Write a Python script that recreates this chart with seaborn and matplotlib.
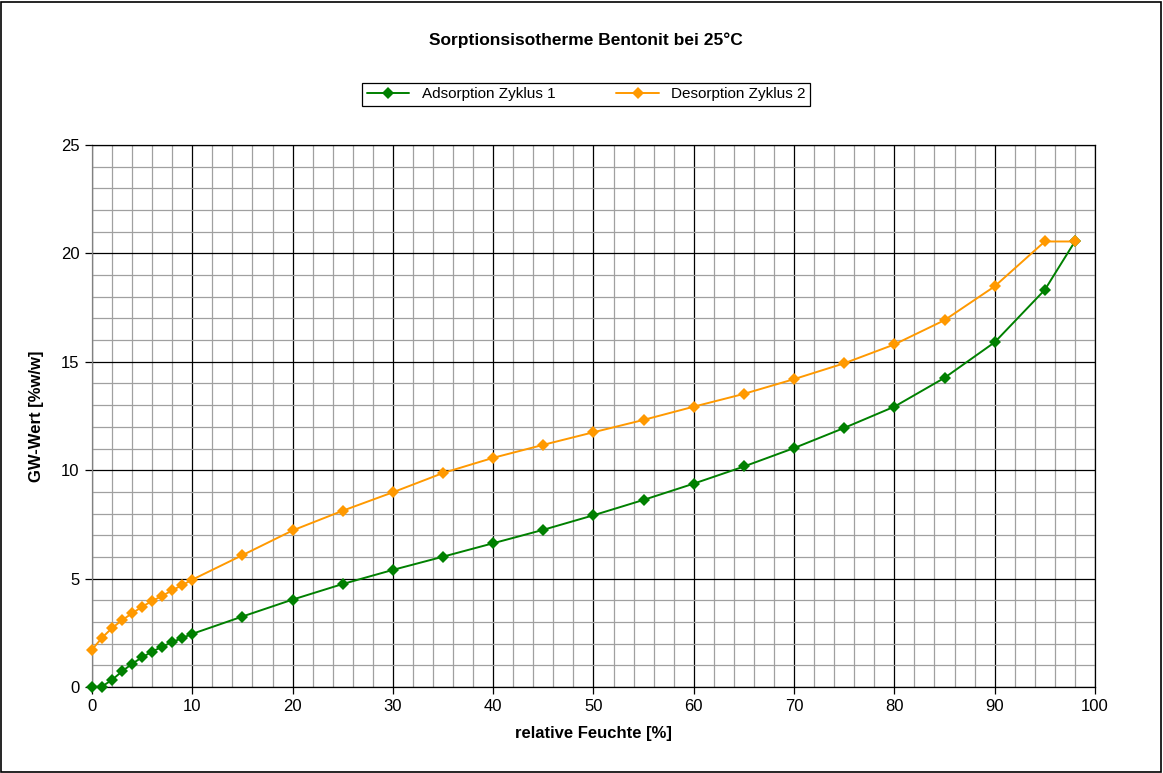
import matplotlib
matplotlib.use("Agg")
import matplotlib.pyplot as plt
from matplotlib.patches import Rectangle
from matplotlib.ticker import MultipleLocator
import pandas as pd
import seaborn as sns

# Daten
feuchte = [0, 1, 2, 3, 4, 5, 6, 7, 8, 9, 10, 15, 20, 25, 30, 35, 40, 45,
           50, 55, 60, 65, 70, 75, 80, 85, 90, 95, 98]
adsorption = [0.0, 0.02, 0.33, 0.72, 1.07, 1.37, 1.63, 1.86, 2.07, 2.26, 2.45,
              3.25, 4.03, 4.75, 5.4, 6.01, 6.63, 7.25, 7.92, 8.63, 9.38,
              10.17, 11.02, 11.95, 12.93, 14.26, 15.9, 18.32, 20.55]
desorption = [1.72, 2.27, 2.72, 3.08, 3.4, 3.7, 3.97, 4.2, 4.46, 4.7, 4.95,
              6.08, 7.22, 8.13, 8.98, 9.87, 10.57, 11.17, 11.75, 12.32,
              12.93, 13.52, 14.2, 14.93, 15.8, 16.92, 18.48, 20.55, 20.55]
serien = ["Adsorption Zyklus 1", "Desorption Zyklus 2"]
farben = ["#008000", "#FF9900"]

df = pd.DataFrame({
    "feuchte": feuchte * 2,
    "gw": adsorption + desorption,
    "serie": [serien[0]] * len(feuchte) + [serien[1]] * len(feuchte),
})

sns.set_style("white")
plt.rcParams["font.family"] = ["Liberation Sans", "DejaVu Sans"]
plt.rcParams["text.color"] = "black"
plt.rcParams["axes.labelcolor"] = "black"
plt.rcParams["xtick.color"] = "black"
plt.rcParams["ytick.color"] = "black"

fig = plt.figure(figsize=(11.63, 7.73), dpi=100)
ax = fig.add_axes([0.0791, 0.1113, 0.8624, 0.7011])

sns.lineplot(
    data=df, x="feuchte", y="gw", hue="serie", palette=farben,
    marker="D", markersize=6.3, markeredgewidth=0, linewidth=1.4,
    sort=False, estimator=None, ax=ax, legend=True, clip_on=False, zorder=5,
)

ax.set_xlim(0, 100)
ax.set_ylim(0, 25)
ax.xaxis.set_major_locator(MultipleLocator(10))
ax.xaxis.set_minor_locator(MultipleLocator(2))
ax.yaxis.set_major_locator(MultipleLocator(5))
ax.yaxis.set_minor_locator(MultipleLocator(1))
ax.grid(which="major", color="black", linewidth=0.9)
ax.grid(which="minor", color="#a0a0a0", linewidth=0.9)
ax.set_axisbelow(True)
for s in ax.spines.values():
    s.set_color("black")
    s.set_linewidth(0.9)
ax.spines["left"].set_color("#808080")
ax.tick_params(which="major", direction="out", length=5, width=0.9,
               color="black", labelsize=12, pad=4, bottom=True, left=True)
ax.tick_params(which="minor", length=0)

ax.set_xlabel("relative Feuchte [%]", fontsize=12, fontweight="bold", labelpad=8)
ax.set_ylabel("GW-Wert [%w/w]", fontsize=12, fontweight="bold", labelpad=12)

fig.text(0.504, 0.948, "Sorptionsisotherme Bentonit bei 25°C", ha="center",
         va="center", fontsize=12.5, fontweight="bold")

handles, labels = ax.get_legend_handles_labels()
ax.legend(handles, labels, ncol=2, loc="center", bbox_to_anchor=(0.504, 0.878),
          bbox_transform=fig.transFigure, frameon=True, fancybox=False,
          edgecolor="black", fontsize=11, handlelength=2.8, columnspacing=4.0,
          borderpad=0.3, framealpha=1)
ax.get_legend().get_frame().set_linewidth(0.9)

fig.patches.append(Rectangle((0.001, 0.001), 0.997, 0.997, transform=fig.transFigure,
                             fill=False, edgecolor="black", linewidth=1.2))

fig.savefig("out.png", dpi=100)
